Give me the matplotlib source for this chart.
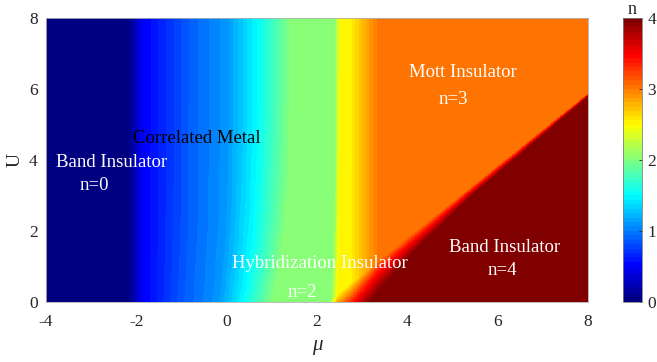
import numpy as np
import matplotlib.pyplot as plt
from matplotlib.colors import LinearSegmentedColormap

# filling n, column profiles at the top (U=8) and bottom (U=0)
mu_top = [-4, -2.2, -1.85, -0.8, 0.0, 0.67, 1.45, 2.4, 2.5, 2.75, 3.39, 8]
mu_bottom = [-4, -2.2, -1.85, -0.9, -0.2, 0.36, 1.03, 2.3, 2.45, 2.75, 3.39, 8]
n_profile = [0, 0, 0.5, 0.89, 1.1, 1.5, 2.05, 2.05, 2.5, 2.55, 3.06, 3.06]

# boundary of the n=4 band insulator (mu, U) and its smearing width in mu
edge_mu = [2.25, 8.0]
edge_U = [0.0, 5.88]
edge_width_U = [0, 1.44, 3.0, 5.9]
edge_width = [0.95, 0.52, 0.25, 0.08]

labels = [
    ("Band Insulator", -2.54, 3.92, "white"),
    ("n=0", -2.94, 3.27, "white"),
    ("Correlated Metal", -0.66, 4.62, "black"),
    ("Mott Insulator", 5.23, 6.46, "white"),
    ("n=3", 5.01, 5.70, "white"),
    ("Hybridization Insulator", 2.06, 1.09, "white"),
    ("n=2", 1.67, 0.27, "white"),
    ("Band Insulator", 6.16, 1.52, "white"),
    ("n=4", 6.10, 0.89, "white"),
]

# MATLAB style jet, 64 levels
jet_m = LinearSegmentedColormap("jet_m", {
    'red': [(0, 0, 0), (3/8, 0, 0), (5/8, 1, 1), (7/8, 1, 1), (1, 0.5, 0.5)],
    'green': [(0, 0, 0), (1/8, 0, 0), (3/8, 1, 1), (5/8, 1, 1), (7/8, 0, 0), (1, 0, 0)],
    'blue': [(0, 0.5, 0.5), (1/8, 1, 1), (3/8, 1, 1), (5/8, 0, 0), (1, 0, 0)],
}, N=64)

plt.rcParams['font.family'] = ['Liberation Serif', 'DejaVu Serif']
plt.rcParams['axes.unicode_minus'] = False

mu = np.linspace(-4, 8, 700)
U = np.linspace(0, 8, 420)
MU, UU = np.meshgrid(mu, U)

n = np.zeros_like(MU)
for i, u in enumerate(U):
    s = (1 - u / 8) ** 4
    pos = (1 - s) * np.array(mu_top) + s * np.array(mu_bottom)
    p = np.interp(mu, pos, n_profile)
    slope = (edge_U[1] - edge_U[0]) / (edge_mu[1] - edge_mu[0])
    mu_line = edge_mu[0] + u / slope
    w = np.interp(u, edge_width_U, edge_width)
    frac = np.clip((mu - mu_line) / w, 0, 1)
    n[i] = p + (4 - p) * frac

fig = plt.figure(figsize=(6.57, 3.62), dpi=100)
ax = fig.add_axes([46/657, 1 - 301.7/362, 542/657, 283.4/362])
mesh = ax.pcolormesh(MU, UU, n, cmap=jet_m, vmin=0, vmax=4, shading='auto', rasterized=True)
ax.set_xlim(-4, 8)
ax.set_ylim(0, 8)
ax.set_xticks([-4, -2, 0, 2, 4, 6, 8])
ax.set_yticks([0, 2, 4, 6, 8])
ax.tick_params(length=0, labelsize=12.5, colors='#262626')
ax.tick_params(axis='x', pad=9)
ax.tick_params(axis='y', pad=6)
ax.set_xlabel("μ", fontsize=15, fontstyle='italic', color='#262626', labelpad=4)
ax.set_ylabel("U", fontsize=14, color='#262626', labelpad=4)
for sp in ax.spines.values():
    sp.set_color('#b0b0b0')
    sp.set_linewidth(0.6)

for txt, x, y, c in labels:
    ax.text(x, y, txt, color=c, fontsize=13.5, ha='center', va='center')

cax = fig.add_axes([622.7/657, 1 - 301.7/362, 19/657, 283.4/362])
cb = fig.colorbar(mesh, cax=cax, ticks=[0, 1, 2, 3, 4])
cb.outline.set_edgecolor('#808080')
cb.outline.set_linewidth(0.6)
cax.tick_params(direction='in', length=2.5, width=0.6, labelsize=12.5, colors='#262626', pad=4)
cax.set_title("n", fontsize=13, color='#262626', pad=1)

fig.savefig("out.png", dpi=100)
